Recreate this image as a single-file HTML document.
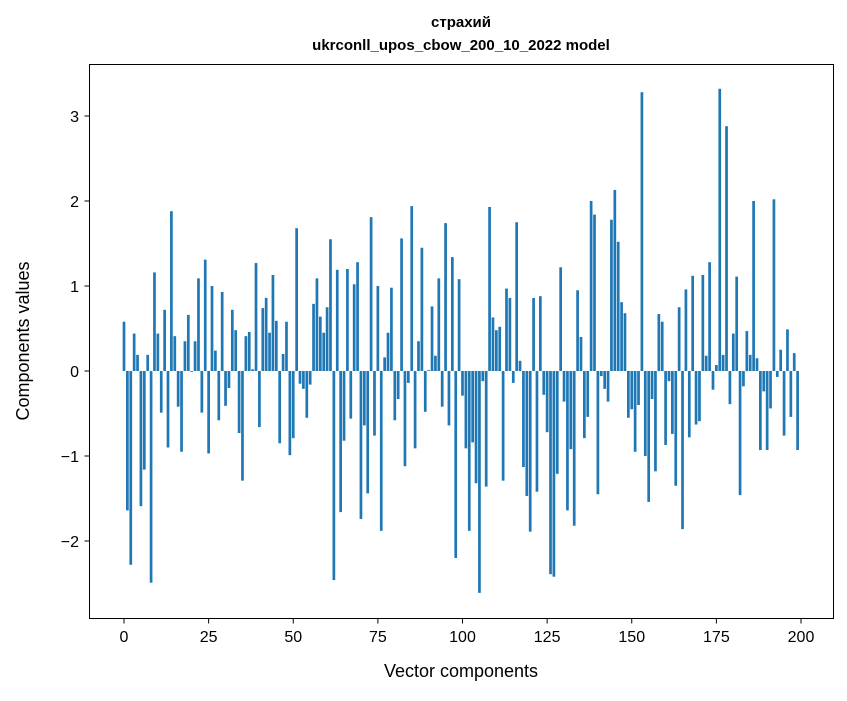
<!DOCTYPE html>
<html><head><meta charset="utf-8"><style>
body{margin:0;background:#fff;font-family:"Liberation Sans","DejaVu Sans",sans-serif}
</style></head><body>
<svg id="chart" width="847" height="696" xmlns="http://www.w3.org/2000/svg" font-family="Liberation Sans, DejaVu Sans, sans-serif">
<rect width="847" height="696" fill="#fff"/>
<text x="461" y="27" text-anchor="middle" font-size="15" font-weight="bold">страхий</text>
<text x="461" y="50" text-anchor="middle" font-size="15" font-weight="bold">ukrconll_upos_cbow_200_10_2022 model</text>
<g id="bars"></g>
<g id="axes"></g>
<rect x="89.5" y="64.5" width="744" height="554" fill="none" stroke="#000" stroke-width="1"/>
<text x="461" y="677" text-anchor="middle" font-size="18">Vector components</text>
<text transform="translate(29,341) rotate(-90)" text-anchor="middle" font-size="18">Components values</text>
</svg>
<script>
const values = [0.58,-1.64,-2.28,0.44,0.19,-1.59,-1.16,0.19,-2.49,1.16,
0.44,-0.49,0.72,-0.9,1.88,0.41,-0.42,-0.95,0.35,0.66,
-0.01,0.35,1.09,-0.49,1.31,-0.97,1.0,0.24,-0.58,0.93,
-0.41,-0.2,0.72,0.48,-0.73,-1.29,0.41,0.46,0.02,1.27,
-0.66,0.74,0.86,0.45,1.13,0.59,-0.85,0.2,0.58,-0.99,
-0.79,1.68,-0.15,-0.21,-0.55,-0.16,0.79,1.09,0.64,0.45,
0.75,1.55,-2.46,1.19,-1.66,-0.82,1.2,-0.56,1.02,1.28,
-1.74,-0.64,-1.44,1.81,-0.76,1.0,-1.88,0.16,0.45,0.98,
-0.58,-0.33,1.56,-1.12,-0.14,1.94,-0.91,0.35,1.45,-0.48,
0.01,0.76,0.18,1.09,-0.42,1.74,-0.64,1.34,-2.2,1.08,
-0.29,-0.91,-1.88,-0.84,-1.32,-2.61,-0.12,-1.36,1.93,0.63,
0.48,0.52,-1.29,0.97,0.86,-0.14,1.75,0.12,-1.13,-1.47,
-1.89,0.86,-1.42,0.88,-0.28,-0.72,-2.39,-2.42,-1.21,1.22,
-0.36,-1.64,-0.92,-1.82,0.95,0.4,-0.79,-0.54,2.0,1.84,
-1.45,-0.06,-0.21,-0.36,1.78,2.13,1.52,0.81,0.68,-0.55,
-0.45,-0.95,-0.4,3.28,-1.0,-1.54,-0.33,-1.18,0.67,0.58,
-0.87,-0.12,-0.74,-1.35,0.75,-1.86,0.96,-0.78,1.12,-0.63,
-0.59,1.13,0.18,1.28,-0.22,0.07,3.32,0.19,2.88,-0.39,
0.44,1.11,-1.46,-0.18,0.47,0.19,2.0,0.15,-0.93,-0.24,
-0.93,-0.44,2.02,-0.07,0.25,-0.76,0.49,-0.54,0.21,-0.93];
const xTicks = [0,25,50,75,100,125,150,175,200];
const yTicks = [-2,-1,0,1,2,3];
const NS="http://www.w3.org/2000/svg";
function xs(v){return 124+v*(801-124)/200;}
function ys(v){return 371-v*85;}
const bars=document.getElementById('bars');
const bw=0.8*(801-124)/200;
values.forEach((v,i)=>{
  const r=document.createElementNS(NS,'rect');
  
  
  const y0=ys(0),y1=ys(v);
  r.setAttribute('x',xs(i)-bw/2);
  r.setAttribute('y',Math.min(y0,y1));
  r.setAttribute('width',bw);
  r.setAttribute('height',Math.abs(y1-y0));
  r.setAttribute('fill','#1f77b4');
  bars.appendChild(r);
});
const axes=document.getElementById('axes');
xTicks.forEach(t=>{
  const l=document.createElementNS(NS,'line');
  
  
  l.setAttribute('x1',xs(t));l.setAttribute('x2',xs(t));
  l.setAttribute('y1',618.5);l.setAttribute('y2',623.5);
  l.setAttribute('stroke','#000');
  axes.appendChild(l);
  const tx=document.createElementNS(NS,'text');
  
  
  tx.setAttribute('x',xs(t));tx.setAttribute('y',642);
  tx.setAttribute('text-anchor','middle');tx.setAttribute('font-size','16');
  tx.textContent=t;
  axes.appendChild(tx);
});
yTicks.forEach(t=>{
  const l=document.createElementNS(NS,'line');
  
  
  l.setAttribute('x1',84.5);l.setAttribute('x2',89.5);
  l.setAttribute('y1',ys(t));l.setAttribute('y2',ys(t));
  l.setAttribute('stroke','#000');
  axes.appendChild(l);
  const tx=document.createElementNS(NS,'text');
  
  
  tx.setAttribute('x',79);tx.setAttribute('y',ys(t)+6);
  tx.setAttribute('text-anchor','end');tx.setAttribute('font-size','16');
  tx.textContent=t<0?'\u2212'+Math.abs(t):t;
  axes.appendChild(tx);
});
</script>
</body></html>
